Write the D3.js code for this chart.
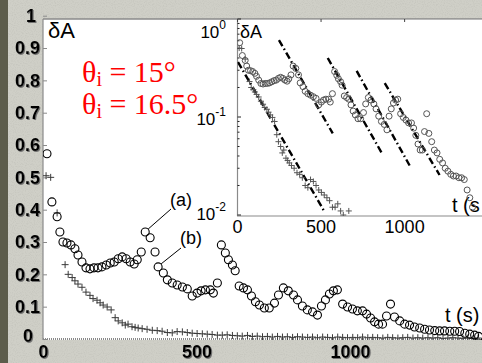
<!DOCTYPE html>
<html><head><meta charset="utf-8">
<script src="https://cdn.jsdelivr.net/npm/d3@7/dist/d3.min.js"></script>
<style>body{margin:0;background:#cfcfc7}svg{display:block}</style>
</head><body>
<svg id="c" width="482" height="363"></svg>
<script>
// ---- data ----
const circT = [13,29,46,55,65,78,91,104,114,127,140,153,166,179,192,206,219,232,245,258,271,284,297,307,320,333,349,365,375,392,405,421,437,454,470,486,502,515,529,545,555,568,581,594,604,617,626,639,653,666,679,692,705,721,737,754,767,783,799,816,829,845,861,878,894,907,920,933,946,959,976,992,1008,1024,1041,1054,1067,1080,1093,1106,1119,1132,1145,1162,1178,1194,1210,1227,1243,1259,1276,1292,1308,1325,1341,1357,1374,1390,1406,1419];
const circV = [0.573,0.424,0.378,0.331,0.300,0.297,0.291,0.279,0.260,0.238,0.220,0.217,0.220,0.220,0.223,0.229,0.235,0.238,0.248,0.254,0.248,0.238,0.232,0.245,0.269,0.331,0.313,0.269,0.223,0.204,0.183,0.173,0.167,0.161,0.155,0.133,0.142,0.149,0.152,0.152,0.142,0.173,0.291,0.266,0.245,0.229,0.211,0.164,0.158,0.152,0.133,0.115,0.105,0.096,0.096,0.111,0.136,0.158,0.149,0.136,0.121,0.102,0.090,0.084,0.074,0.102,0.121,0.139,0.149,0.152,0.108,0.099,0.093,0.087,0.087,0.077,0.065,0.053,0.046,0.046,0.071,0.108,0.068,0.056,0.046,0.043,0.037,0.034,0.030,0.028,0.026,0.025,0.025,0.024,0.024,0.023,0.018,0.015,0.012,0.008];
const crossT = [10,25,46,72,82,95,104,114,127,140,153,163,176,186,196,209,222,235,245,258,268,277,290,300,310,323,339,356,372,388,405,421,437,454,470,486,502,519,535,551,568,584,600,617,633,649,666,682,698,715,731,747,764,780,796,813,829,845,862,878,894,911,927,943,960,976,992,1009,1025,1041,1058,1074,1090,1107,1123,1139,1156,1172,1188,1205,1221,1237,1254,1270,1286,1303,1319,1335,1352,1368,1384,1401,1417];
const crossV = [0.505,0.50,0.39,0.23,0.20,0.19,0.18,0.17,0.16,0.145,0.135,0.125,0.12,0.112,0.105,0.099,0.09,0.066,0.056,0.05,0.043,0.046,0.038,0.036,0.034,0.032,0.030,0.027,0.026,0.024,0.020,0.019,0.023,0.022,0.020,0.018,0.017,0.016,0.015,0.014,0.012,0.012,0.013,0.011,0.010,0.009,0.011,0.008,0.009,0.007,0.008,0.006,0.008,0.006,0.007,0.005,0.007,0.006,0.005,0.006,0.004,0.006,0.005,0.004,0.006,0.005,0.004,0.005,0.004,0.006,0.004,0.005,0.004,0.003,0.005,0.004,0.003,0.004,0.005,0.003,0.004,0.003,0.004,0.003,0.004,0.002,0.003,0.004,0.003,0.002,0.003,0.002,0.003];
// exponential fits in the inset: [t0, v0, t1, v1]
const fits = [[3,0.364,522,0.0107],[248,0.61,570,0.068],[540,0.40,863,0.043],[713,0.295,1030,0.032],[881,0.222,1209,0.0256]];
const mainYTicks = [0,0.1,0.2,0.3,0.4,0.5,0.6,0.7,0.8,0.9,1];
const mainXTicks = [0,500,1000];
const insetXTicks = [0,500,1000];
const insetYTicks = [0.01,0.1,1];

const svg = d3.select("#c");
const defs = svg.append("defs");
const f = defs.append("filter").attr("id","sh").attr("x","-20%").attr("y","-20%").attr("width","140%").attr("height","140%");
f.append("feDropShadow").attr("dx",1).attr("dy",1).attr("stdDeviation",0.4).attr("flood-color","#666").attr("flood-opacity",0.9);
const noise = defs.append("filter").attr("id","nz");
noise.append("feTurbulence").attr("type","fractalNoise").attr("baseFrequency",0.9).attr("numOctaves",1).attr("seed",3);
noise.append("feColorMatrix").attr("values","0 0 0 0 0.35  0 0 0 0 0.35  0 0 0 0 0.32  0 0 0 -2.2 1.2");
defs.append("clipPath").attr("id","cm").append("rect").attr("x",43).attr("y",19).attr("width",439).attr("height",321);
defs.append("clipPath").attr("id","ci").append("rect").attr("x",237.5).attr("y",19).attr("width",245).attr("height",197);

// background
svg.append("rect").attr("width",482).attr("height",363).attr("fill","#cfcfc7");
svg.append("rect").attr("width",482).attr("height",363).attr("filter","url(#nz)").attr("opacity",0.25);
svg.append("rect").attr("width",8).attr("height",363).attr("fill","#5c5c4b");

// main scales
const x = d3.scaleLinear().domain([0,1430]).range([43,482]);
const y = d3.scaleLinear().domain([0,1]).range([339,15.7]);

svg.append("rect").attr("x",43).attr("y",19).attr("width",439).attr("height",321).attr("fill","#fff");
svg.append("line").attr("x1",43).attr("x2",482).attr("y1",19).attr("y2",19).attr("stroke","#8a8a8a").attr("stroke-width",1.6);
svg.append("line").attr("x1",43).attr("x2",43).attr("y1",19).attr("y2",340).attr("stroke","#8a8a8a").attr("stroke-width",1.2);
svg.append("line").attr("x1",43).attr("x2",482).attr("y1",339).attr("y2",339).attr("stroke","#8a8a8a").attr("stroke-width",2).attr("stroke-dasharray","1,1");

// main y axis
const ya = svg.append("g").attr("transform","translate(43,0)")
  .call(d3.axisLeft(y).tickValues(mainYTicks).tickSizeInner(-4).tickSizeOuter(0).tickPadding(3)
    .tickFormat(d => d===0?"0":d===1?"1":d3.format(".1f")(d)));
ya.select(".domain").remove();
ya.selectAll(".tick line").attr("stroke","#8a8a8a");
ya.selectAll(".tick text").attr("font-family","Liberation Sans, Arial, sans-serif").attr("font-size",18).attr("font-weight","bold").attr("fill","#000").attr("filter","url(#sh)")
  .attr("dx", d => d===0 ? -7 : d===1 ? -4 : 0)
  .attr("dy", d => d===0 ? "0.15em" : "0.32em");

// main x axis labels
const xa = svg.append("g").attr("transform","translate(0,339)")
  .call(d3.axisBottom(x).tickValues(mainXTicks).tickSize(0).tickPadding(6).tickFormat(d3.format("d")));
xa.select(".domain").remove();
xa.selectAll(".tick text").attr("font-family","Liberation Sans, Arial, sans-serif").attr("font-size",18).attr("font-weight","bold").attr("fill","#000").attr("filter","url(#sh)");

// main data
const gm = svg.append("g").attr("clip-path","url(#cm)");
const crossData = crossT.map((t,i)=>[t,crossV[i]]);
const circData = circT.map((t,i)=>[t,circV[i]]);
const cs = 3.5;
gm.selectAll("path.cr").data(crossData).join("path").attr("class","cr")
  .attr("d", d => `M${x(d[0])-cs},${y(d[1])}h${2*cs}M${x(d[0])},${y(d[1])-cs}v${2*cs}`)
  .attr("stroke","#3a3a3a").attr("stroke-width",1);
gm.selectAll("circle").data(circData).join("circle")
  .attr("cx", d=>x(d[0])).attr("cy", d=>y(d[1])).attr("r",4)
  .attr("fill","none").attr("stroke","#000").attr("stroke-width",1.1);

// main texts
const sans = "Liberation Sans, Arial, sans-serif";
svg.append("text").attr("x",48).attr("y",38).attr("font-family",sans).attr("font-size",22).text("δA");
svg.append("text").attr("x",445).attr("y",322).attr("font-family",sans).attr("font-size",20).text("t (s)");
const th1 = svg.append("text").attr("x",82).attr("y",82).attr("font-family","Liberation Serif, Times New Roman, serif").attr("font-size",30).attr("fill","#ff0000");
th1.append("tspan").text("θ");
th1.append("tspan").attr("font-size",20).attr("dy",4).text("i");
th1.append("tspan").attr("dy",-4).text(" = 15°");
const th2 = svg.append("text").attr("x",82).attr("y",114).attr("font-family","Liberation Serif, Times New Roman, serif").attr("font-size",30).attr("fill","#ff0000");
th2.append("tspan").text("θ");
th2.append("tspan").attr("font-size",20).attr("dy",4).text("i");
th2.append("tspan").attr("dy",-4).text(" = 16.5°");

// annotations (a) and (b)
svg.append("text").attr("x",181).attr("y",206).attr("text-anchor","middle").attr("font-family",sans).attr("font-size",18).text("(a)");
svg.append("line").attr("x1",171).attr("y1",209).attr("x2",x(333)+3).attr("y2",y(0.331)-3).attr("stroke","#000").attr("stroke-width",1);
svg.append("text").attr("x",191).attr("y",244).attr("text-anchor","middle").attr("font-family",sans).attr("font-size",18).text("(b)");
svg.append("line").attr("x1",181).attr("y1",248).attr("x2",x(375)+3).attr("y2",y(0.223)-3).attr("stroke","#000").attr("stroke-width",1);

// ---- inset ----
const xi = d3.scaleLinear().domain([0,1463]).range([237.5,482]);
const yi = d3.scaleLog().domain([0.01,1]).range([215,19]);
svg.append("rect").attr("x",237.5).attr("y",19.8).attr("width",245).attr("height",196).attr("fill","#fff");
svg.append("line").attr("x1",237.5).attr("x2",237.5).attr("y1",19).attr("y2",216).attr("stroke","#8a8a8a").attr("stroke-width",1.2);
svg.append("line").attr("x1",237).attr("x2",482).attr("y1",216).attr("y2",216).attr("stroke","#8a8a8a").attr("stroke-width",1.2);
// minor log ticks
const minors = [];
[0.01,0.1].forEach(b=>{for(let k=2;k<=9;k++) minors.push(b*k);});
svg.selectAll("line.mn").data(minors).join("line").attr("class","mn")
  .attr("x1",237.5).attr("x2",239.5).attr("y1",d=>yi(d)).attr("y2",d=>yi(d)).attr("stroke","#222").attr("stroke-width",1);
svg.selectAll("line.mj").data(insetYTicks).join("line").attr("class","mj")
  .attr("x1",237.5).attr("x2",241).attr("y1",d=>yi(d)).attr("y2",d=>yi(d)).attr("stroke","#222").attr("stroke-width",1);
svg.selectAll("line.xt").data(insetXTicks).join("line").attr("class","xt")
  .attr("x1",d=>xi(d)).attr("x2",d=>xi(d)).attr("y1",19).attr("y2",22).attr("stroke","#444").attr("stroke-width",1);
// y labels
const yl = svg.selectAll("text.yl").data(insetYTicks).join("text").attr("class","yl")
  .attr("x",226).attr("y",d=>yi(d) + (d===1?19:d===0.1?8:5))
  .attr("text-anchor","end").attr("font-family",sans).attr("font-size",17);
yl.append("tspan").text("10");
yl.append("tspan").attr("font-size",12).attr("dy",-9).text(d=>String(Math.round(Math.log10(d))));
// x labels
svg.selectAll("text.xl").data(insetXTicks).join("text").attr("class","xl")
  .attr("x",d=>xi(d)).attr("y",233).attr("text-anchor","middle").attr("font-family",sans).attr("font-size",18)
  .text(d=>d3.format("d")(d));
svg.append("text").attr("x",240).attr("y",38).attr("font-family",sans).attr("font-size",18).text("δA");
svg.append("text").attr("x",452).attr("y",212).attr("font-family",sans).attr("font-size",20).text("t (s");

const gi = svg.append("g").attr("clip-path","url(#ci)");
gi.selectAll("path.fit").data(fits).join("path").attr("class","fit")
  .attr("d", d=>`M${xi(d[0])},${yi(d[1])}L${xi(d[2])},${yi(d[3])}`)
  .attr("stroke","#000").attr("stroke-width",2.4).attr("fill","none").attr("stroke-dasharray","7,3,1.5,3");
const cs2 = 3;
gi.selectAll("path.icr").data(crossData.filter(d=>d[1]>=0.009)).join("path").attr("class","icr")
  .attr("d", d => `M${xi(d[0])-cs2},${yi(d[1])}h${2*cs2}M${xi(d[0])},${yi(d[1])-cs2}v${2*cs2}`)
  .attr("stroke","#555").attr("stroke-width",1);
gi.selectAll("circle").data(circData).join("circle")
  .attr("cx", d=>xi(d[0])).attr("cy", d=>yi(d[1])).attr("r",3)
  .attr("fill","none").attr("stroke","#555").attr("stroke-width",1);
</script>
</body></html>
